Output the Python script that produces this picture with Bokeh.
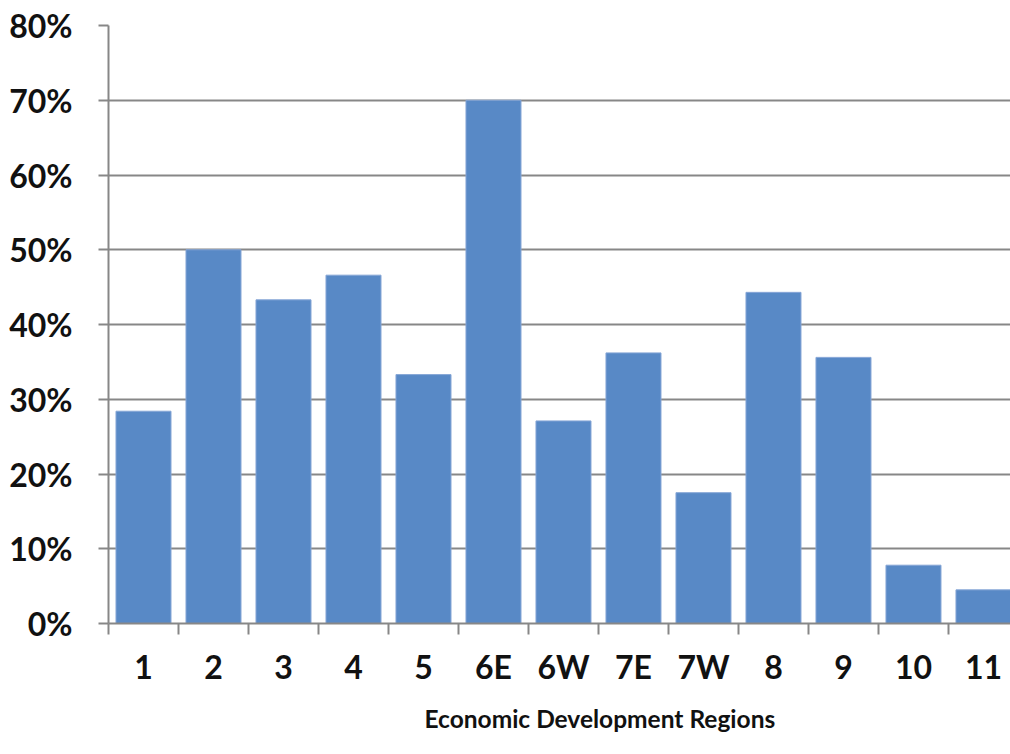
from bokeh.plotting import figure
from bokeh.models import (FixedTicker, CustomJSTickFormatter, Title, Range1d,
                          ColumnDataSource)
from bokeh.embed import file_html
from bokeh.resources import INLINE

regions = ["1", "2", "3", "4", "5", "6E", "6W", "7E", "7W", "8", "9", "10", "11"]
share_pct = [28.4, 50.0, 43.3, 46.6, 33.3, 70.0, 27.1, 36.2, 17.5, 44.3, 35.6, 7.8, 4.5]
y_ticks = [0, 10, 20, 30, 40, 50, 60, 70, 80]
x_title = "Economic Development Regions"

centers = [i + 0.5 for i in range(len(regions))]
src = ColumnDataSource(dict(x=centers, top=share_pct, name=regions))

FONT = "Lato"
GRAY = "#878787"

p = figure(width=1010, height=748, output_backend="svg", toolbar_location=None,
           x_range=Range1d(0, 12.886), y_range=Range1d(0, 80),
           min_border_left=108, min_border_right=0, min_border_top=25,
           min_border_bottom=125)
p.outline_line_color = None
p.background_fill_color = "white"

p.vbar(x="x", top="top", width=0.786, bottom=0, source=src,
       fill_color="#5889C6", line_color="#86a6d6", line_width=1)

# y axis
p.yaxis.ticker = FixedTicker(ticks=y_ticks)
p.yaxis.formatter = CustomJSTickFormatter(code="return Math.round(tick) + '%';")
p.yaxis.axis_line_color = GRAY
p.yaxis.axis_line_width = 2
p.yaxis.major_tick_line_color = GRAY
p.yaxis.major_tick_line_width = 2
p.yaxis.major_tick_out = 10
p.yaxis.major_tick_in = 0
p.yaxis.minor_tick_line_color = None
p.yaxis.major_label_standoff = 26
p.yaxis.major_label_text_font = FONT
p.yaxis.major_label_text_font_size = "32px"
p.yaxis.major_label_text_font_style = "bold"
p.yaxis.major_label_text_color = "#111111"

# x axis: labels at category centers, tick marks at category edges
p.xaxis.ticker = FixedTicker(ticks=centers, minor_ticks=list(range(len(regions) + 1)))
p.xaxis.formatter = CustomJSTickFormatter(args=dict(labels=regions),
                                          code="return labels[Math.round(tick - 0.5)];")
p.xaxis.axis_line_color = GRAY
p.xaxis.axis_line_width = 2
p.xaxis.major_tick_line_color = None
p.xaxis.major_tick_out = 11
p.xaxis.major_tick_in = 0
p.xaxis.minor_tick_line_color = GRAY
p.xaxis.minor_tick_line_width = 2
p.xaxis.minor_tick_out = 11
p.xaxis.minor_tick_in = 0
p.xaxis.major_label_standoff = 12
p.xaxis.major_label_text_font = FONT
p.xaxis.major_label_text_font_size = "32px"
p.xaxis.major_label_text_font_style = "bold"
p.xaxis.major_label_text_color = "#111111"

p.xgrid.grid_line_color = None
p.ygrid.ticker = FixedTicker(ticks=y_ticks[1:])
p.ygrid.grid_line_color = GRAY
p.ygrid.grid_line_width = 2

title = Title(text=x_title, align="left", offset=316, standoff=27,
              text_font=FONT, text_font_size="24.5px", text_font_style="bold",
              text_color="#111111")
p.add_layout(title, "below")

open("out.html", "w").write(file_html(p, INLINE))
